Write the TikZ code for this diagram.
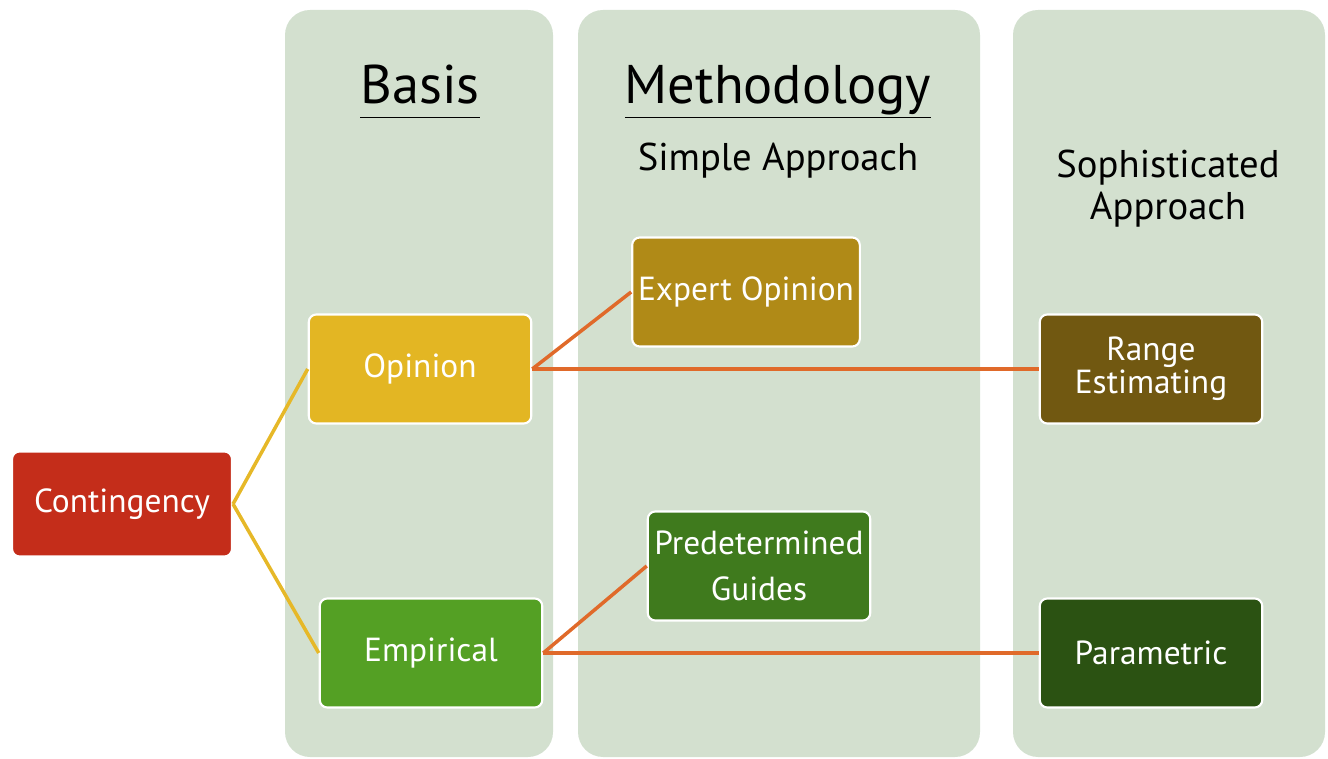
\documentclass[tikz,border=0pt]{standalone}
\usepackage{fontspec}
\setmainfont{PT Sans}
\usepackage{tikz}

\definecolor{colbg}{HTML}{D3E0CF}
\definecolor{contred}{HTML}{C42D1A}
\definecolor{opgold}{HTML}{E3B623}
\definecolor{empgreen}{HTML}{54A024}
\definecolor{expgold}{HTML}{B08A17}
\definecolor{predgreen}{HTML}{3F7A1D}
\definecolor{rangebrown}{HTML}{715811}
\definecolor{paragreen}{HTML}{2B5212}
\definecolor{yline}{HTML}{E6B828}
\definecolor{oline}{HTML}{E06A2A}

\begin{document}
\begin{tikzpicture}[x=0.02cm,y=-0.02cm]
	\tikzstyle{col}=[fill=colbg,draw=none,rounded corners=0.5cm]
	\tikzstyle{box}=[minimum height=2.18cm,minimum width=4.45cm,rectangle,rounded corners=0.15cm,draw=white,line width=1.2pt,text=white,align=center,font=\fontsize{19pt}{19pt}\selectfont]
	\tikzstyle{head}=[font=\fontsize{31pt}{33pt}\selectfont]
	\tikzstyle{sub}=[font=\fontsize{22pt}{24pt}\selectfont,align=center]
	\tikzstyle{yl}=[draw=yline,line width=2pt]
	\tikzstyle{ol}=[draw=oline,line width=2pt]

	\useasboundingbox (0,0) rectangle (1328,759);

	% the three columns
	\fill[col] (285,10) rectangle (553,757);
	\fill[col] (578,10) rectangle (980,757);
	\fill[col] (1013,10) rectangle (1325,757);

	\node[head] (BA) at (420,92) {\underline{Basis\vphantom{gy}}};
	\node[head] (ME) at (778,92) {\underline{Methodology}};
	\node[sub] (SI) at (778,161) {Simple Approach};
	\node[sub] (SO) at (1168,189) {Sophisticated\\Approach};

	\node[box,fill=contred,minimum width=4.4cm,minimum height=2.1cm] (CO) at (122,504) {Contingency};
	\node[box,fill=opgold] (OP) at (420,369) {Opinion};
	\node[box,fill=empgreen] (EM) at (431,653) {Empirical};
	\node[box,fill=expgold] (EX) at (746,292) {Expert Opinion};
	\node[box,fill=predgreen,font=\fontsize{19pt}{26pt}\selectfont] (PG) at (759,566) {Predetermined\\Guides};
	\node[box,fill=rangebrown] (RE) at (1151,369) {Range\\Estimating};
	\node[box,fill=paragreen] (PA) at (1151,653) {Parametric};

	\path (CO.east) edge[yl] (OP.west);
	\path (CO.east) edge[yl] (EM.west);
	\path (OP.east) edge[ol] (EX.west);
	\path (OP.east) edge[ol] (RE.west);
	\path (EM.east) edge[ol] (PG.west);
	\path (EM.east) edge[ol] (PA.west);
\end{tikzpicture}
\end{document}
